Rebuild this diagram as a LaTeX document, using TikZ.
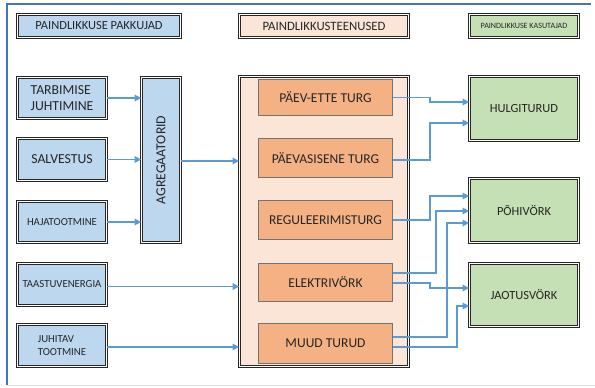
\documentclass[tikz,border=0pt]{standalone}
\usepackage{fontspec}
\setmainfont{Carlito}
\usetikzlibrary{arrows.meta,calc}
\definecolor{bluefill}{HTML}{BDD7EE}
\definecolor{greenfill}{HTML}{C5E0B4}
\definecolor{peach}{HTML}{FBE5D6}
\definecolor{orangefill}{HTML}{F4B183}
\definecolor{arrowblue}{HTML}{5B9BD5}
\definecolor{frameblue}{HTML}{4472C4}
\definecolor{txt}{HTML}{262626}
\begin{document}
\begin{tikzpicture}[x=1bp,y=-1bp,
  dbox/.style={draw=black!85, line width=0.9bp, double=white, double distance=1.3bp,
    inner sep=0pt, text=txt, align=center},
  bluebox/.style={dbox, fill=bluefill},
  greenbox/.style={dbox, fill=greenfill},
  peachbox/.style={dbox, fill=peach},
  obox/.style={draw=black!55, line width=1.2bp, fill=orangefill, inner sep=0pt,
    text=txt, align=center, minimum width=133.8bp, font=\fontsize{13.6}{16}\selectfont},
  arr/.style={draw=arrowblue, line width=1.7bp, -{Triangle[length=6.5bp,width=6.5bp]}},
  big/.style={font=\fontsize{13.8}{16}\selectfont},
  mid/.style={font=\fontsize{12.5}{14}\selectfont},
  small/.style={font=\fontsize{10.8}{13}\selectfont},
]
\useasboundingbox (0,0) rectangle (595,387);
% frame
\draw[black!12, line width=0.8bp] (7,385.5) -- (595,385.5);
\draw[frameblue, line width=1.6bp] (7,385) -- (7,4) -- (591,4);

% headers
\node[bluebox, mid, minimum width=162.9bp, minimum height=22.9bp] (h1) at (99,26) {PAINDLIKKUSE PAKKUJAD};
\node[peachbox, font=\fontsize{12.8}{14}\selectfont, minimum width=168.9bp, minimum height=22.9bp] (h2) at (324,26) {PAINDLIKKUSTEENUSED};
\node[greenbox, font=\fontsize{8.1}{9}\selectfont, minimum width=108.9bp, minimum height=22.9bp] (h3) at (524,26) {PAINDLIKKUSE KASUTAJAD};

% left providers
\node[bluebox, big, align=left, minimum width=88.9bp, minimum height=40.9bp] (tar) at (62,98) {TARBIMISE\\JUHTIMINE};
\node[bluebox, big, minimum width=88.9bp, minimum height=41.9bp] (sal) at (62,159.5) {SALVESTUS};
\node[bluebox, small, minimum width=88.9bp, minimum height=40.9bp] (haj) at (62,222) {HAJATOOTMINE};
\node[bluebox, small, minimum width=88.9bp, minimum height=41.9bp] (taa) at (62,284.5) {TAASTUVENERGIA};
\node[bluebox, small, align=left, minimum width=88.9bp, minimum height=41.9bp] (juh) at (62,345.5) {JUHITAV\\TOOTMINE};

% aggregator
\node[bluebox, big, rotate=90, minimum width=164.9bp, minimum height=38.9bp] (agr) at (161,160) {AGREGAATORID};

% services
\node[peachbox, minimum width=168.9bp, minimum height=289.9bp] (srv) at (324,221.5) {};
\node[obox, minimum height=35.8bp] (pe) at (325.5,97.5) {PÄEV-ETTE TURG};
\node[obox, minimum height=38.8bp] (ps) at (325.5,158) {PÄEVASISENE TURG};
\node[obox, minimum height=38.8bp] (re) at (325.5,220) {REGULEERIMISTURG};
\node[obox, minimum height=37.8bp] (el) at (325.5,282.5) {ELEKTRIVÖRK};
\node[obox, minimum height=39.8bp] (mu) at (325.5,343.5) {MUUD TURUD};

% users
\node[greenbox, mid, minimum width=108.9bp, minimum height=63.9bp] (hul) at (524,108.5) {HULGITURUD};
\node[greenbox, mid, minimum width=108.9bp, minimum height=63.9bp] (poh) at (524,210.5) {PÕHIVÖRK};
\node[greenbox, mid, minimum width=108.9bp, minimum height=62.9bp] (jao) at (524,295) {JAOTUSVÖRK};

% provider arrows
\draw[arr] (tar.east) -- (tar.east -| agr.north);
\draw[arr] (sal.east) -- (sal.east -| agr.north);
\draw[arr] (haj.east) -- (haj.east -| agr.north);
\draw[arr] ([yshift=-1bp]agr.south) -- ([yshift=-1bp]agr.south -| srv.west);
\draw[arr] ([yshift=-2bp]taa.east) -- ([yshift=-2bp]taa.east -| srv.west);
\draw[arr] ([yshift=-1.5bp]juh.east) -- ([yshift=-1.5bp]juh.east -| srv.west);

% service to user arrows
\coordinate (hA) at ([yshift=6.5bp]hul.west);
\coordinate (hB) at ([yshift=-14.5bp]hul.west);
\coordinate (pA) at ([yshift=14.5bp]poh.west);
\coordinate (pB) at ([yshift=-0.5bp]poh.west);
\coordinate (pC) at ([yshift=-12.5bp]poh.west);
\coordinate (jA) at ([yshift=7bp]jao.west);
\coordinate (jB) at ([yshift=-11bp]jao.west);

\draw[arr] (pe.east) -- ++(37,0) |- (hA);
\draw[arr] ([yshift=-2bp]ps.east) -- ++(37,0) |- (hB);
\draw[arr] (re.east) -- ++(37,0) |- (pA);
\draw[arr] ([yshift=9.5bp]el.east) -- ++(43,0) |- (pB);
\draw[arr] ([yshift=6.5bp]mu.east) -- ++(54,0) |- (pC);
\draw[arr] ([yshift=-0.5bp]el.east) -- ++(37,0) |- (jA);
\draw[arr] ([yshift=-3.5bp]mu.east) -- ++(64,0) |- (jB);
\end{tikzpicture}
\end{document}
